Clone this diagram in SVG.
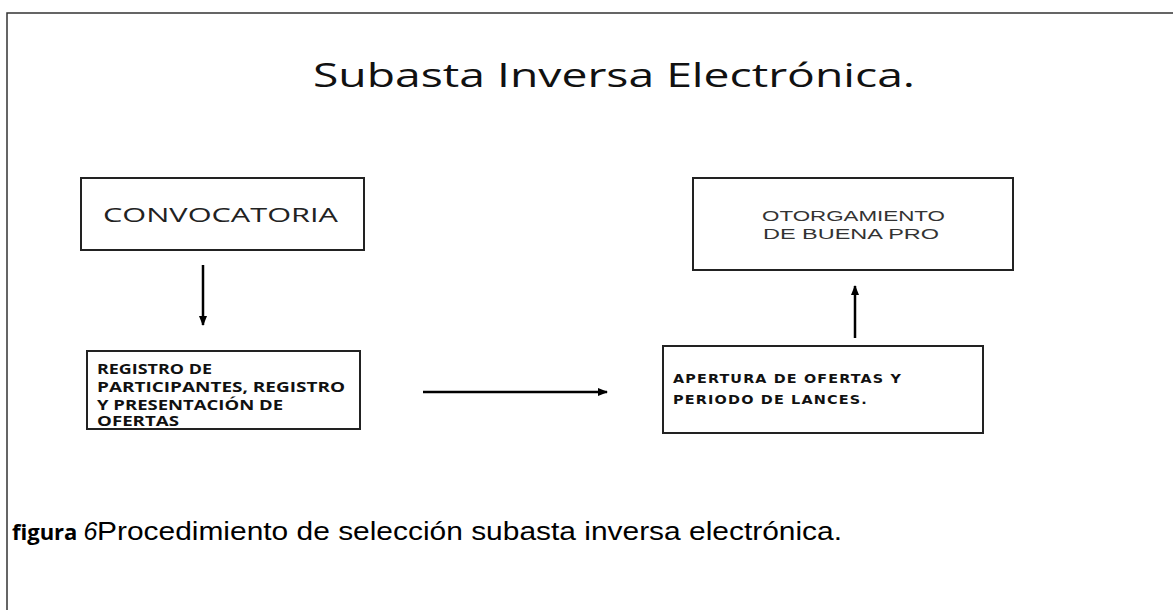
<svg xmlns="http://www.w3.org/2000/svg" width="1173" height="610" viewBox="0 0 1173 610">
<defs>
<style>
.box{fill:#fff;stroke:#222;stroke-width:2}
.conn{stroke:#000;stroke-width:2.5;fill:none}
.title{font-family:"Open Sans","DejaVu Sans",sans-serif;font-size:33px;fill:#111}
.conv{font-family:"Open Sans","DejaVu Sans",sans-serif;font-size:20px;fill:#222}
.reg{font-family:"Open Sans","DejaVu Sans",sans-serif;font-weight:bold;font-size:13.5px;fill:#111}
.ape{font-family:"DejaVu Sans","Open Sans",sans-serif;font-weight:bold;font-size:12.5px;fill:#111;letter-spacing:1px}
.oto{font-family:"Liberation Sans",Arial,sans-serif;font-size:14.5px;fill:#333}
.cap{font-family:"Liberation Sans Narrow","Liberation Sans",Arial,sans-serif;font-size:25px;fill:#000}
.capb{font-family:"Open Sans","Liberation Sans",sans-serif;font-weight:bold;font-size:22px;fill:#000}
</style>
<marker id="ah" viewBox="0 0 10 10" refX="9" refY="5" markerWidth="4" markerHeight="4" orient="auto" markerUnits="strokeWidth">
<path d="M0,1 L10,5 L0,9 z" fill="#000"/>
</marker>
</defs>
<rect width="1173" height="610" fill="#fff"/>
<path d="M1180,13 H7 V620" fill="none" stroke="#333" stroke-width="1.5"/>
<text class="title" x="313" y="87" textLength="602" lengthAdjust="spacingAndGlyphs">Subasta Inversa Electrónica.</text>
<g id="convocatoria">
<rect class="box" x="81" y="178" width="283" height="72"/>
<text class="conv" x="103" y="222" textLength="235" lengthAdjust="spacingAndGlyphs">CONVOCATORIA</text>
</g>
<g id="registro">
<rect class="box" x="87" y="351" width="273" height="78"/>
<text class="reg" x="97" y="374" textLength="115" lengthAdjust="spacingAndGlyphs">REGISTRO DE</text>
<text class="reg" x="97" y="392" textLength="248" lengthAdjust="spacingAndGlyphs">PARTICIPANTES, REGISTRO</text>
<text class="reg" x="97" y="410" textLength="186" lengthAdjust="spacingAndGlyphs">Y PRESENTACIÓN DE</text>
<text class="reg" x="97" y="426" textLength="82" lengthAdjust="spacingAndGlyphs">OFERTAS</text>
</g>
<g id="apertura">
<rect class="box" x="663" y="346" width="320" height="87"/>
<text class="ape" x="673" y="383" textLength="229" lengthAdjust="spacingAndGlyphs">APERTURA DE OFERTAS Y</text>
<text class="ape" x="673" y="404" textLength="195" lengthAdjust="spacingAndGlyphs">PERIODO DE LANCES.</text>
</g>
<g id="otorgamiento">
<rect class="box" x="693" y="178" width="320" height="92"/>
<text class="oto" x="762" y="221" textLength="183" lengthAdjust="spacingAndGlyphs">OTORGAMIENTO</text>
<text class="oto" x="763" y="239" textLength="176" lengthAdjust="spacingAndGlyphs">DE BUENA PRO</text>
</g>
<g id="connectors">
<line class="conn" x1="203" y1="265" x2="203" y2="325" marker-end="url(#ah)"/>
<line class="conn" x1="423" y1="392" x2="607" y2="392" marker-end="url(#ah)"/>
<line class="conn" x1="855" y1="338" x2="855" y2="286" marker-end="url(#ah)"/>
</g>
<text x="12" y="540"><tspan class="capb">figura</tspan><tspan class="cap" dx="6" font-style="italic">6</tspan></text>
<text class="cap" x="97" y="540" textLength="745" lengthAdjust="spacingAndGlyphs">Procedimiento de selección subasta inversa electrónica.</text>
</svg>
